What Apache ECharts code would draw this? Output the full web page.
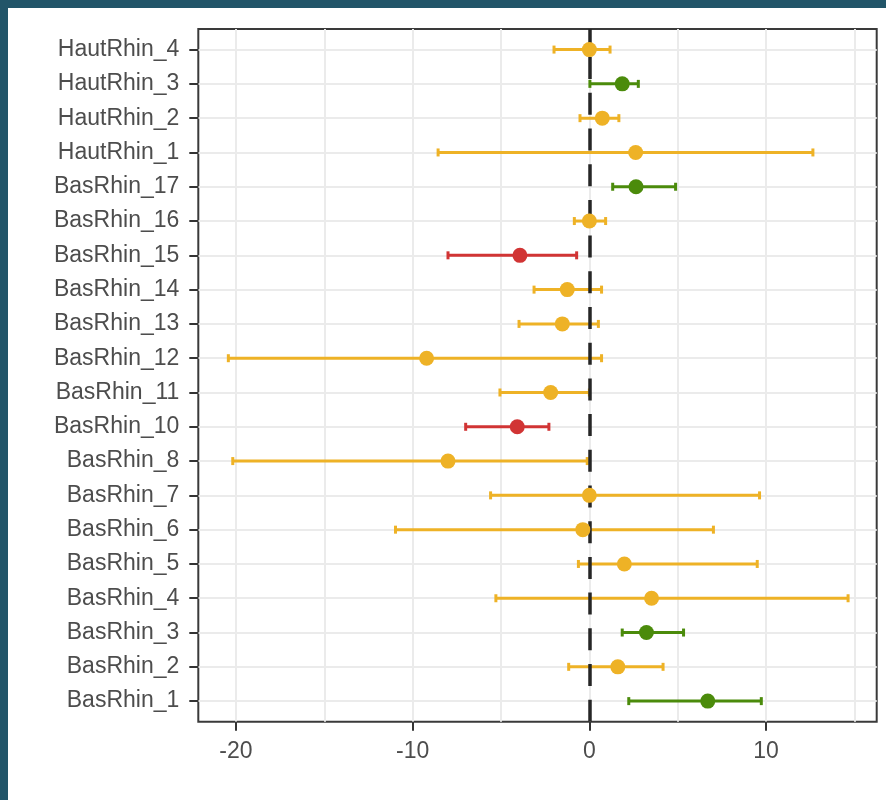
<!DOCTYPE html>
<html>
<head>
<meta charset="utf-8">
<script src="https://cdn.jsdelivr.net/npm/echarts@6/dist/echarts.min.js"></script>
<style>
  html, body { margin: 0; padding: 0; background: #225569; width: 886px; height: 800px; overflow: hidden; }
  #chart { position: absolute; left: 8px; top: 8px; width: 878px; height: 792px; background: #ffffff; }
</style>
</head>
<body>
<div id="chart"></div>
<script>
// Categories, bottom to top
const categories = ['BasRhin_1','BasRhin_2','BasRhin_3','BasRhin_4','BasRhin_5','BasRhin_6','BasRhin_7','BasRhin_8','BasRhin_10','BasRhin_11','BasRhin_12','BasRhin_13','BasRhin_14','BasRhin_15','BasRhin_16','BasRhin_17','HautRhin_1','HautRhin_2','HautRhin_3','HautRhin_4'];
const estimates = [6.7, 1.61, 3.23, 3.52, 1.98, -0.37, 0.0, -8.0, -4.08, -2.19, -9.21, -1.53, -1.25, -3.93, 0.0, 2.64, 2.62, 0.73, 1.86, 0.0];
const lower = [2.23, -1.17, 1.86, -5.29, -0.62, -10.97, -5.59, -20.18, -7.0, -5.06, -20.43, -3.98, -3.13, -8.0, -0.85, 1.32, -8.56, -0.53, 0.03, -2.0];
const upper = [9.73, 4.17, 5.33, 14.64, 9.5, 7.02, 9.63, -0.12, -2.29, 0.0, 0.69, 0.51, 0.69, -0.72, 0.92, 4.88, 12.65, 1.67, 2.77, 1.17];
const groups = ['pos','ns','pos','ns','ns','ns','ns','ns','neg','ns','ns','ns','ns','neg','ns','pos','ns','ns','pos','ns'];
const xLabelTicks = [-20, -10, 0, 10];
const xGridTicks = [-20, -15, -10, -5, 0, 5, 10, 15];
const refValue = 0;

const groupColors = { pos: '#4B8B0B', ns: '#EEB226', neg: '#D13434' };
const FONT = '"Liberation Sans", Arial, sans-serif';

const chart = echarts.init(document.getElementById('chart'), null, { renderer: 'canvas' });
const catIdx = categories.map((c, i) => i);

const barData = categories.map((c, i) => [i, lower[i], upper[i], groups[i]]);
const pointData = categories.map((c, i) => ({ value: [estimates[i], i], itemStyle: { color: groupColors[groups[i]], opacity: 1 } }));

const option = {
  animation: false,
  backgroundColor: '#ffffff',
  grid: {
    left: 190.3, top: 21, width: 678.4, height: 692.7,
    show: true, borderColor: '#3a3a3a', borderWidth: 2, backgroundColor: '#ffffff'
  },
  xAxis: [
    {
      type: 'value', min: -22.13, max: 16.26, position: 'bottom', gridIndex: 0,
      axisLine: { show: false, onZero: false },
      axisTick: { show: true, customValues: xLabelTicks, length: 9, lineStyle: { color: '#333333', width: 2 } },
      axisLabel: { show: true, customValues: xLabelTicks, fontSize: 23, color: '#4d4d4d', fontFamily: FONT, margin: 18 },
      splitLine: { show: false },
      minorSplitLine: { show: false }
    },
    {
      type: 'value', min: -22.13, max: 16.26, position: 'top', gridIndex: 0,
      axisLine: { show: false, onZero: false },
      axisTick: { show: false, customValues: xGridTicks },
      axisLabel: { show: false },
      splitLine: { show: true, lineStyle: { color: '#ebebeb', width: 2 } }
    }
  ],
  yAxis: {
    type: 'value', min: -0.6, max: 19.6, position: 'left',
    axisLine: { show: false, onZero: false },
    axisTick: { show: true, customValues: catIdx, length: 9, lineStyle: { color: '#333333', width: 2 } },
    axisLabel: { show: true, customValues: catIdx, formatter: v => categories[Math.round(v)] || '', fontSize: 23, color: '#4d4d4d', fontFamily: FONT, margin: 19 },
    splitLine: { show: true, lineStyle: { color: '#ebebeb', width: 2 } }
  },
  series: [
    {
      type: 'custom', z: 2, xAxisIndex: 0,
      data: barData,
      renderItem: function (params, api) {
        const y = api.value(0);
        const p1 = api.coord([api.value(1), y]);
        const p2 = api.coord([api.value(2), y]);
        const color = groupColors[barData[params.dataIndex][3]];
        const h = 4;
        const st = { stroke: color, lineWidth: 3 };
        return {
          type: 'group',
          children: [
            { type: 'line', shape: { x1: p1[0], y1: p1[1], x2: p2[0], y2: p2[1] }, style: st },
            { type: 'line', shape: { x1: p1[0], y1: p1[1] - h, x2: p1[0], y2: p1[1] + h }, style: st },
            { type: 'line', shape: { x1: p2[0], y1: p2[1] - h, x2: p2[0], y2: p2[1] + h }, style: st }
          ]
        };
      }
    },
    {
      type: 'scatter', z: 3, xAxisIndex: 0, data: [],
      markLine: {
        silent: true, symbol: ['none', 'none'], label: { show: false }, z: 3,
        lineStyle: { color: '#262626', width: 3.5, type: [22, 13.7], cap: 'butt' },
        data: [{ xAxis: refValue }]
      }
    },
    {
      type: 'scatter', z: 10, xAxisIndex: 0,
      symbolSize: 15,
      itemStyle: { opacity: 1 },
      data: pointData
    }
  ]
};
chart.setOption(option);
</script>
</body>
</html>
